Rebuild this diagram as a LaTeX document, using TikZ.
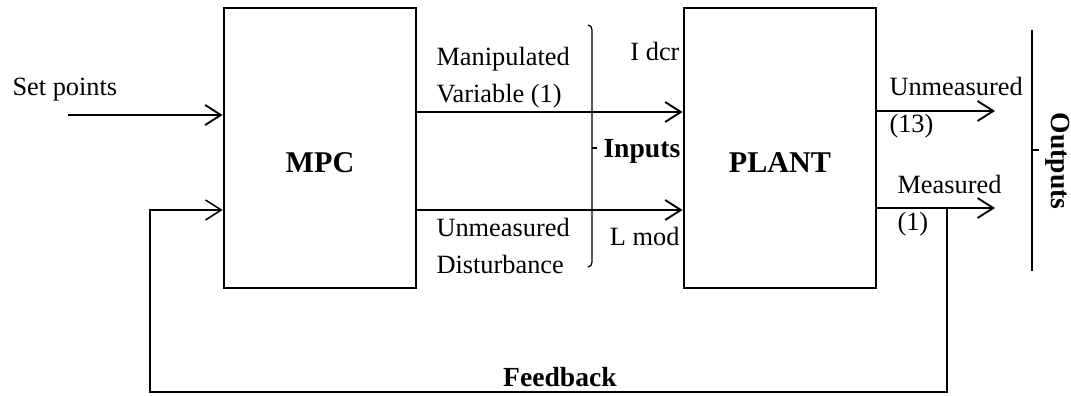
\documentclass[tikz,border=0pt]{standalone}
\usepackage{fontspec}
\setmainfont{Liberation Serif}
\usetikzlibrary{arrows.meta, positioning, calc}
\tikzset{
  blk/.style={draw, line width=0.75pt, minimum width=27mm, minimum height=39.2mm},
  arr/.style={-{Straight Barb[length=2.2mm, width=2.8mm]}, line width=0.75pt},
  txt/.style={inner sep=0pt, align=left, font=\fontsize{10.5}{14.8}\selectfont},
  btxt/.style={inner sep=0pt, font=\bfseries\fontsize{11}{13}\selectfont},
}

\begin{document}
\begin{tikzpicture}[x=0.14mm, y=-0.14mm]
    \useasboundingbox (0,0) rectangle (1071,396);
    % blocks
    \node[blk, label={[btxt, font=\bfseries\fontsize{12}{14}\selectfont, yshift=-2.1mm]center:MPC}] (mpc) at (320,148) {};
    \node[blk, label={[btxt, font=\bfseries\fontsize{12}{14}\selectfont, yshift=-2.1mm]center:PLANT}] (plant) at (780,148) {};
    % levels
    \coordinate (setpt) at (68,115);
    \coordinate (top) at (0,112);
    \coordinate (bot) at (0,210);
    \coordinate (unm) at (995,111);
    \coordinate (ms) at (995,208);
    \coordinate (fb) at (947,392);
    \coordinate (fbl) at (150,392);
    % labels
    \node[txt, anchor=base west] (sp) at (12,95) {Set points};
    \node[txt, anchor=north west] (mv) at (436,47) {Manipulated\\Variable (1)};
    \node[txt, anchor=north west] (ud) at (436,218) {Unmeasured\\Disturbance};
    \node[txt, anchor=base east] (idcr) at (680,60) {I dcr};
    \node[txt, anchor=base east] (lmod) at (680,245) {L mod};
    \node[btxt, anchor=base west] (inp) at (603,157) {Inputs};
    \node[txt, anchor=north west] (uo) at (889,77) {Unmeasured\\(13)};
    \node[txt, anchor=north west] (mo) at (897,175) {Measured\\(1)};
    \node[btxt, rotate=-90] (outp) at (1058,161) {Outputs};
    \node[btxt, anchor=base] (fbt) at (560,386) {Feedback};
    % connectors
    \draw[arr] (setpt) -- (mpc.west |- setpt);
    \draw[arr] (mpc.east |- top) -- (plant.west |- top);
    \draw[arr] (mpc.east |- bot) -- (plant.west |- bot);
    \draw[arr] (plant.east |- unm) -- (unm);
    \draw[arr] (plant.east |- ms) -- (ms);
    \draw[arr, line width=0.6pt] (fb |- ms) -- (fb) -- (fbl) -- (fbl |- bot) -- (mpc.west |- bot);
    % brackets
    \draw[line width=0.5pt] (588,25) to[out=0, in=90] (592,30) -- (592,262) to[out=-90, in=0] (588,267);
    \draw[line width=0.5pt] (592,148) -- (597,148);
    \draw[line width=0.5pt] (1032,30) -- (1032,271) (1032,150) -- (1039,150);
\end{tikzpicture}
\end{document}
